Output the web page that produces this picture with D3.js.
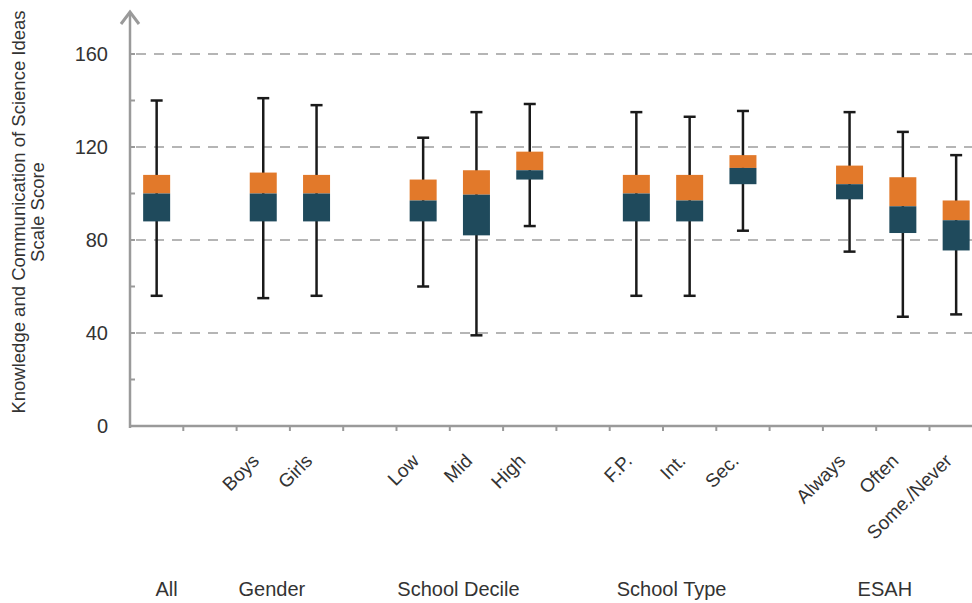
<!DOCTYPE html>
<html>
<head>
<meta charset="utf-8">
<script src="https://cdn.jsdelivr.net/npm/d3@7/dist/d3.min.js"></script>
<style>
  html, body { margin: 0; padding: 0; background: #fff; }
  svg { display: block; }
  text { font-family: "Liberation Sans", Arial, sans-serif; fill: #333; }
</style>
</head>
<body>
<svg id="chart" width="972" height="603"></svg>
<script>
// ---- data ----
const groups = ["All", "Gender", "School Decile", "School Type", "ESAH"];
const categories = ["All", "Boys", "Girls", "Low", "Mid", "High", "F.P.", "Int.", "Sec.", "Always", "Often", "Some./Never"];
const categoryGroup = ["All", "Gender", "Gender", "School Decile", "School Decile", "School Decile",
  "School Type", "School Type", "School Type", "ESAH", "ESAH", "ESAH"];
const showCategoryLabel = [false, true, true, true, true, true, true, true, true, true, true, true];
const whiskerLow  = [56, 55, 56, 60, 39, 86, 56, 56, 84, 75, 47, 48];
const lowerQuart  = [88, 88, 88, 88, 82, 106, 88, 88, 104, 97.5, 83, 75.5];
const medians     = [100, 100, 100, 97, 99.5, 110, 100, 97, 111, 104, 94.5, 88.5];
const upperQuart  = [108, 109, 108, 106, 110, 118, 108, 108, 116.5, 112, 107, 97];
const whiskerHigh = [140, 141, 138, 124, 135, 138.5, 135, 133, 135.5, 135, 126.5, 116.5];
const yTicks = [0, 40, 80, 120, 160];
const yMinorTicks = [20, 60, 100, 140];
const yTitle = ["Knowledge and Communication of Science Ideas", "Scale Score"];

// ---- layout ----
const svg = d3.select("#chart");
const axisX = 130, axisY = 426;
const slotStep = 53.3;

// slot keys: categories with one empty slot between groups
const slots = [];
categories.forEach((c, i) => {
  if (i > 0 && categoryGroup[i] !== categoryGroup[i - 1]) slots.push("gap" + i);
  slots.push(c);
});
const x = d3.scaleBand().domain(slots).range([axisX, axisX + slots.length * slotStep]).padding(0);
const cx = c => x(c) + x.bandwidth() / 2;

const y = d3.scaleLinear().domain([0, 160]).range([axisY, 54]);

const orange = "#E2792A";
const teal = "#1F4A5C";
const axisColor = "#9a9a9a";

// gridlines
svg.append("g").selectAll("line").data(yTicks.filter(t => t > 0)).join("line")
  .attr("x1", axisX + 6).attr("x2", 972)
  .attr("y1", d => y(d)).attr("y2", d => y(d))
  .attr("stroke", "#b5b5b5").attr("stroke-width", 2)
  .attr("stroke-dasharray", "10,8");

// y axis via d3 axis (labels), styled
const yAxis = d3.axisLeft(y).tickValues(yTicks).tickSize(0).tickPadding(22);
const gy = svg.append("g").attr("transform", `translate(${axisX},0)`).call(yAxis);
gy.select(".domain").remove();
gy.selectAll("text").attr("font-size", 20).attr("fill", "#333")
  .style("font-family", '"Liberation Sans", Arial, sans-serif');

// y axis line with arrow
svg.append("line").attr("x1", axisX).attr("x2", axisX).attr("y1", axisY + 2).attr("y2", 12)
  .attr("stroke", axisColor).attr("stroke-width", 2.5);
svg.append("path").attr("d", `M${axisX - 9},${24} L${axisX},${12} L${axisX + 9},${24}`)
  .attr("fill", "none").attr("stroke", axisColor).attr("stroke-width", 3);
// small ticks on y axis
svg.append("g").selectAll("line").data(yTicks.concat(yMinorTicks)).join("line")
  .attr("x1", axisX).attr("x2", axisX + 5)
  .attr("y1", d => y(d)).attr("y2", d => y(d))
  .attr("stroke", axisColor).attr("stroke-width", 2);

// x axis line and ticks at slot boundaries
svg.append("line").attr("x1", axisX).attr("x2", 972).attr("y1", axisY).attr("y2", axisY)
  .attr("stroke", axisColor).attr("stroke-width", 2.5);
svg.append("g").selectAll("line").data(slots).join("line")
  .attr("x1", d => x(d) + x.bandwidth()).attr("x2", d => x(d) + x.bandwidth())
  .attr("y1", axisY).attr("y2", axisY + 5)
  .attr("stroke", axisColor).attr("stroke-width", 2);

// boxes
const boxW = 27, capW = 12;
const bx = svg.append("g");
categories.forEach((c, i) => {
  const g = bx.append("g");
  const xc = cx(c);
  g.append("line").attr("x1", xc).attr("x2", xc)
    .attr("y1", y(whiskerHigh[i])).attr("y2", y(whiskerLow[i]))
    .attr("stroke", "#1a1a1a").attr("stroke-width", 2.5);
  [whiskerHigh[i], whiskerLow[i]].forEach(v => {
    g.append("line").attr("x1", xc - capW / 2).attr("x2", xc + capW / 2)
      .attr("y1", y(v)).attr("y2", y(v))
      .attr("stroke", "#1a1a1a").attr("stroke-width", 2.5);
  });
  g.append("rect").attr("x", xc - boxW / 2).attr("width", boxW)
    .attr("y", y(upperQuart[i])).attr("height", y(medians[i]) - y(upperQuart[i]))
    .attr("fill", orange);
  g.append("rect").attr("x", xc - boxW / 2).attr("width", boxW)
    .attr("y", y(medians[i])).attr("height", y(lowerQuart[i]) - y(medians[i]))
    .attr("fill", teal);
});

// rotated category labels
svg.append("g").selectAll("text").data(categories.filter((c, i) => showCategoryLabel[i])).join("text")
  .attr("transform", d => `translate(${cx(d) - 3},${462}) rotate(-45)`)
  .attr("text-anchor", "end")
  .attr("font-size", 19)
  .text(d => d);

// group labels
svg.append("g").selectAll("text").data(groups).join("text")
  .attr("x", g => {
    const members = categories.filter((c, i) => categoryGroup[i] === g);
    const m = d3.mean(members, cx);
    return members.length > 1 ? m - 18 : m + 10;
  })
  .attr("y", 596)
  .attr("text-anchor", "middle")
  .attr("font-size", 20)
  .text(d => d);

// y title
const yt = svg.append("text").attr("transform", "translate(0,212) rotate(-90)")
  .attr("text-anchor", "middle").attr("font-size", 18.5);
yt.append("tspan").attr("x", 0).attr("y", 25).text(yTitle[0]);
yt.append("tspan").attr("x", 0).attr("y", 44).text(yTitle[1]);
</script>
</body>
</html>
